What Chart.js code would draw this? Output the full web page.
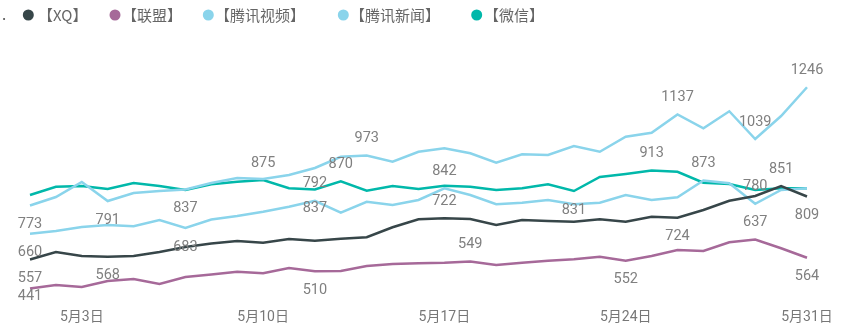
<!DOCTYPE html>
<html>
<head>
<meta charset="utf-8">
<script src="https://cdn.jsdelivr.net/npm/chart.js@4.4.1/dist/chart.umd.min.js"></script>
<style>
html,body{margin:0;padding:0;background:#fff;}
#wrap{position:relative;width:852px;height:336px;}
</style>
</head>
<body>
<div id="wrap"><canvas id="c" width="852" height="336"></canvas></div>
<script>
const categories = ['5月1日','5月2日','5月3日','5月4日','5月5日','5月6日','5月7日','5月8日','5月9日','5月10日',
  '5月11日','5月12日','5月13日','5月14日','5月15日','5月16日','5月17日','5月18日','5月19日','5月20日',
  '5月21日','5月22日','5月23日','5月24日','5月25日','5月26日','5月27日','5月28日','5月29日','5月30日','5月31日'];
const tickLabels = ['5月3日','5月10日','5月17日','5月24日','5月31日'];

const seriesNames = ['【XQ】','【联盟】','【腾讯视频】','【腾讯新闻】','【微信】'];

const xq       = [557,587,571,568,571,587,607,621,631,624,639,632,640,646,686,718,722,719,695,715,711,708,718,708,728,724,755,792,811,851,809];
const lianmeng = [441,455,447,471,479,459,487,497,508,502,523,510,511,531,539,542,544,549,535,544,552,558,568,552,571,595,591,626,637,602,564];
const txVideo  = [773,807,867,791,823,831,837,863,883,879,895,923,968,973,948,988,1002,982,944,978,975,1011,988,1048,1064,1137,1082,1150,1039,1131,1246];
const txNews   = [660,671,687,695,690,715,683,717,731,748,768,792,744,788,775,795,842,815,778,784,795,778,784,815,795,806,873,862,780,835,842];
const weixin   = [815,848,851,839,863,851,835,858,868,875,842,837,870,832,851,839,852,848,835,842,858,831,887,899,913,908,864,859,835,842,842];

// which points carry a data label: [series index, day index, side]
const labelPoints = [
  [2,0,'below'],[3,0,'below'],[0,0,'below'],[1,0,'below'],
  [2,3,'below'],[0,3,'below'],[2,6,'below'],[3,6,'below'],
  [4,9,'above'],[4,12,'above'],[3,11,'above'],[4,11,'below'],[1,11,'below'],
  [2,13,'above'],[3,16,'above'],[0,16,'above'],[1,17,'above'],[4,21,'below'],
  [2,25,'above'],[2,28,'above'],[2,30,'above'],[4,24,'above'],[3,26,'above'],
  [3,28,'above'],[0,29,'above'],[0,30,'below'],[1,28,'above'],[0,25,'below'],
  [1,23,'below'],[1,30,'below']
];

const colors = ['#374649','#A66999','#8AD4EB','#8AD4EB','#01B8AA'];
const allData = [xq, lianmeng, txVideo, txNews, weixin];

const labelPlugin = {
  id: 'pointLabels',
  afterDatasetsDraw(chart) {
    const ctx = chart.ctx;
    ctx.save();
    ctx.font = '14.5px Roboto, "DejaVu Sans", sans-serif';
    ctx.fillStyle = '#808080';
    ctx.textAlign = 'center';
    ctx.textBaseline = 'middle';
    const bottomLimit = chart.chartArea.bottom - 3;
    labelPoints.forEach(([s, i, side]) => {
      const meta = chart.getDatasetMeta(s);
      const pt = meta.data[i];
      const v = chart.data.datasets[s].data[i];
      let y = side === 'above' ? pt.y - 17 : pt.y + 19;
      if (y > bottomLimit) y = bottomLimit;
      ctx.fillText(String(v), pt.x, y);
    });
    ctx.restore();
  }
};

const legendPlugin = {
  id: 'customLegend',
  afterDraw(chart) {
    const ctx = chart.ctx;
    ctx.save();
    ctx.textBaseline = 'middle';
    ctx.textAlign = 'left';
    ctx.fillStyle = '#555';
    ctx.font = '15px "Noto Sans CJK SC", sans-serif';
    ctx.fillText('.', 2, 14);
    const circleX = [28.3, 115, 208.3, 343.3, 476.7];
    const textX = [38, 122, 215, 350, 484];
    for (let k = 0; k < seriesNames.length; k++) {
      ctx.beginPath();
      ctx.fillStyle = colors[k];
      ctx.arc(circleX[k], 15, 5.5, 0, Math.PI * 2);
      ctx.fill();
      ctx.fillStyle = '#666';
      ctx.fillText(seriesNames[k], textX[k], 15);
    }
    ctx.restore();
  }
};

new Chart(document.getElementById('c'), {
  type: 'line',
  data: {
    labels: categories,
    datasets: allData.map((d, k) => ({
      label: seriesNames[k],
      data: d,
      borderColor: colors[k],
      backgroundColor: colors[k],
      borderWidth: 2.5,
      pointRadius: 0,
      pointHoverRadius: 0,
      tension: 0,
      fill: false
    }))
  },
  options: {
    responsive: false,
    animation: false,
    devicePixelRatio: 1,
    layout: { padding: { top: 49, left: 30, right: 45, bottom: 0 } },
    plugins: { legend: { display: false }, tooltip: { enabled: false } },
    scales: {
      x: {
        type: 'category',
        offset: false,
        grid: { display: false, drawTicks: false },
        border: { display: false },
        afterFit(scale) { scale.height = 37; },
        ticks: {
          autoSkip: false,
          maxRotation: 0,
          minRotation: 0,
          padding: 10,
          color: '#777',
          font: { family: 'Roboto, "Noto Sans CJK SC", sans-serif', size: 14 },
          callback(val) {
            const lab = this.getLabelForValue(val);
            return tickLabels.includes(lab) ? lab : '';
          }
        }
      },
      y: {
        display: false,
        min: 399,
        max: 1399
      }
    }
  },
  plugins: [labelPlugin, legendPlugin]
});
</script>
</body>
</html>
